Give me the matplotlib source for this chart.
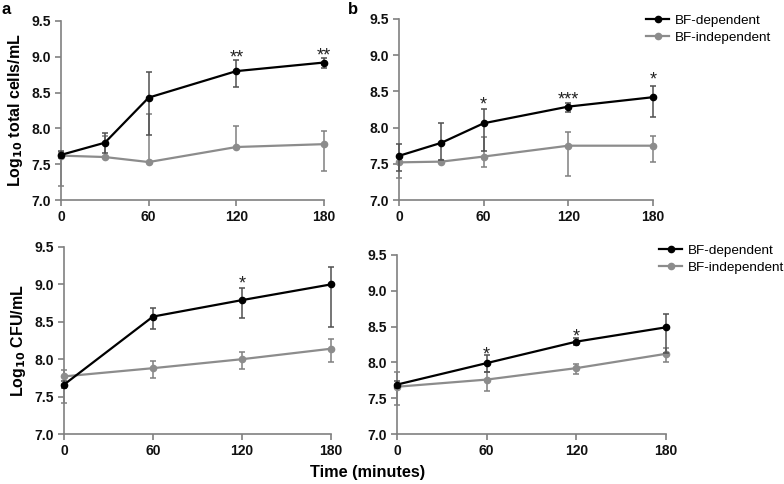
import numpy as np
import matplotlib
matplotlib.use("Agg")
import matplotlib.pyplot as plt
from matplotlib.lines import Line2D

plt.rcParams['font.family'] = ['Liberation Sans', 'DejaVu Sans']

# ---- data ----
t_a_top = [0, 30, 60, 120, 180]
dep_a_top = [7.63, 7.80, 8.43, 8.80, 8.92]
dep_a_top_lo = [0.05, 0.15, 0.52, 0.22, 0.08]
dep_a_top_hi = [0.05, 0.14, 0.36, 0.15, 0.06]
ind_a_top = [7.62, 7.60, 7.53, 7.74, 7.78]
ind_a_top_lo = [0.42, 0.0, 0.0, 0.0, 0.37]
ind_a_top_hi = [0.05, 0.30, 0.67, 0.29, 0.18]

t_b_top = [0, 30, 60, 120, 180]
dep_b_top = [7.61, 7.79, 8.06, 8.29, 8.42]
dep_b_top_lo = [0.21, 0.24, 0.39, 0.08, 0.28]
dep_b_top_hi = [0.17, 0.28, 0.20, 0.05, 0.16]
ind_b_top = [7.52, 7.53, 7.60, 7.75, 7.75]
ind_b_top_lo = [0.22, 0.0, 0.14, 0.42, 0.22]
ind_b_top_hi = [0.0, 0.0, 0.27, 0.19, 0.13]

t_bottom = [0, 60, 120, 180]
dep_a_bot = [7.66, 8.57, 8.79, 9.00]
dep_a_bot_lo = [0.05, 0.17, 0.24, 0.57]
dep_a_bot_hi = [0.05, 0.12, 0.16, 0.23]
ind_a_bot = [7.77, 7.88, 8.00, 8.14]
ind_a_bot_lo = [0.36, 0.13, 0.13, 0.18]
ind_a_bot_hi = [0.08, 0.09, 0.10, 0.13]

dep_b_bot = [7.69, 7.99, 8.29, 8.49]
dep_b_bot_lo = [0.05, 0.13, 0.04, 0.36]
dep_b_bot_hi = [0.05, 0.11, 0.05, 0.18]
ind_b_bot = [7.66, 7.76, 7.92, 8.12]
ind_b_bot_lo = [0.26, 0.16, 0.08, 0.11]
ind_b_bot_hi = [0.21, 0.11, 0.06, 0.08]

# significance marks: (x, y, text)
stars_a_top = [(120, 9.05, '**'), (180, 9.09, '**')]
stars_b_top = [(60, 8.38, '*'), (120, 8.46, '***'), (180, 8.73, '*')]
stars_a_bot = [(120, 9.08, '*')]
stars_b_bot = [(60, 8.18, '*'), (120, 8.43, '*')]

labels = ['BF-dependent', 'BF-independent']
ylabels = [r'Log$_{\mathbf{10}}$ total cells/mL', r'Log$_{\mathbf{10}}$ CFU/mL']

DARK = '#000000'
LIGHT = '#8c8c8c'
AXC = '#808080'

fig = plt.figure(figsize=(7.84, 4.84), dpi=100)
W, H = 784, 484


def make_ax(x0, x180, ytop, ybot):
    return fig.add_axes([x0 / W, (H - ybot) / H, (x180 - x0) / W, (ybot - ytop) / H])


ax_tl = make_ax(61, 324, 21, 200)
ax_tr = make_ax(399, 653, 19, 200)
ax_bl = make_ax(64, 331, 247, 434)
ax_br = make_ax(397, 666, 255, 434)


def draw(ax, t, dep, dlo, dhi, ind, ilo, ihi, stars):
    ax.errorbar(t, dep, yerr=[dlo, dhi], color=DARK, ecolor='#505050', lw=1.6,
                elinewidth=1.1, capsize=2, capthick=1.1, marker='o', ms=4.5,
                clip_on=False, zorder=4)
    ax.errorbar(t, ind, yerr=[ilo, ihi], color=LIGHT, ecolor='#808080', lw=1.6,
                elinewidth=1.1, capsize=2, capthick=1.1, marker='o', ms=4.5,
                clip_on=False, zorder=3)
    for x, y, s in stars:
        ax.annotate(s, (x, y), xytext=(0, -7), textcoords='offset points',
                    ha='center', va='baseline', fontsize=13, color='#222222')
    ax.set_xlim(0, 180)
    ax.set_ylim(7.0, 9.5)
    ax.set_xticks([0, 60, 120, 180])
    ax.set_yticks(np.arange(7.0, 9.51, 0.5))
    ax.set_yticklabels([f'{v:.1f}' for v in np.arange(7.0, 9.51, 0.5)])
    for side in ['top', 'right']:
        ax.spines[side].set_visible(False)
    for side in ['left', 'bottom']:
        ax.spines[side].set_color(AXC)
        ax.spines[side].set_linewidth(1.2)
    ax.tick_params(colors=AXC, width=1.2, length=4, direction='out',
                   labelcolor='#111111', labelsize=10, pad=3)
    for lab in ax.get_xticklabels() + ax.get_yticklabels():
        lab.set_fontweight('bold')


draw(ax_tl, t_a_top, dep_a_top, dep_a_top_lo, dep_a_top_hi,
     ind_a_top, ind_a_top_lo, ind_a_top_hi, stars_a_top)
draw(ax_tr, t_b_top, dep_b_top, dep_b_top_lo, dep_b_top_hi,
     ind_b_top, ind_b_top_lo, ind_b_top_hi, stars_b_top)
draw(ax_bl, t_bottom, dep_a_bot, dep_a_bot_lo, dep_a_bot_hi,
     ind_a_bot, ind_a_bot_lo, ind_a_bot_hi, stars_a_bot)
draw(ax_br, t_bottom, dep_b_bot, dep_b_bot_lo, dep_b_bot_hi,
     ind_b_bot, ind_b_bot_lo, ind_b_bot_hi, stars_b_bot)

ax_tl.set_ylabel(ylabels[0], fontsize=11.5, fontweight='bold', labelpad=5)
ax_bl.set_ylabel(ylabels[1], fontsize=11.5, fontweight='bold', labelpad=5)

handles = [Line2D([], [], color=DARK, lw=1.6, marker='o', ms=4.5),
           Line2D([], [], color=LIGHT, lw=1.6, marker='o', ms=4.5)]
leg_kw = dict(frameon=False, fontsize=9.7, handlelength=1.65, handletextpad=0.45,
              labelspacing=0.35, borderaxespad=0, loc='upper left',
              bbox_transform=fig.transFigure)
ax_tr.legend(handles, labels, bbox_to_anchor=(641 / W, 1 - 9 / H), **leg_kw)
ax_br.legend(handles, labels, bbox_to_anchor=(654 / W, 1 - 239 / H), **leg_kw)

fig.text(368 / W, 1 - 473 / H, 'Time (minutes)', ha='center', va='center',
         fontsize=11.7, fontweight='bold')
fig.text(6 / W, 1 - 9 / H, 'a', ha='center', va='center', fontsize=12, fontweight='bold')
fig.text(353 / W, 1 - 9 / H, 'b', ha='center', va='center', fontsize=12, fontweight='bold')

fig.savefig('out.png', dpi=100)
